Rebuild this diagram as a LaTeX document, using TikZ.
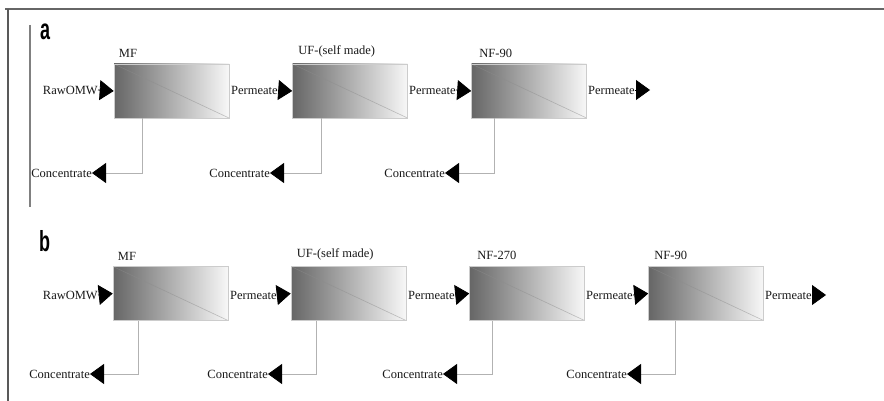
\documentclass[tikz,border=0pt]{standalone}
\usepackage{fontspec}
\setmainfont{Liberation Serif}
\newfontfamily\labfont{Liberation Sans}
\usetikzlibrary{arrows.meta}
\begin{document}
\begin{tikzpicture}[x=1pt,y=-1pt,
  memb/.style={draw=black!20,line width=0.6pt,minimum width=115pt,minimum height=54pt,inner sep=0pt,
    left color=black!60,right color=black!3,
    path picture={\draw[black!45,opacity=0.5,line width=0.6pt] (path picture bounding box.north west) -- (path picture bounding box.south east);}},
  txt/.style={font=\fontsize{12.5}{14}\selectfont,text=black!90,inner sep=0pt},
  title/.style={txt,anchor=south west,inner sep=0pt},
  tri/.style={-{Triangle[length=14pt,width=20pt,color=black]}},
  feed/.style={tri,draw=black,line width=0.8pt},
  conc/.style={tri,draw=black!30,line width=0.8pt},
  panel/.style={font=\labfont\bfseries\fontsize{29}{30}\selectfont,inner sep=0pt}
]
\fill[white] (0,0) rectangle (884,401);
\useasboundingbox (0,0) rectangle (884,401);
% frame
\draw[line width=2pt,black!60] (5,9) -- (884,9);
\draw[line width=1.5pt,black!65] (8,9) -- (8,401);
\draw[line width=1.2pt,black!50] (30,25) -- (30,207);

% panel labels
\node[panel,anchor=north west] (la) at (40,24) {\scalebox{0.62}[1]{a}};
\node[panel,anchor=north west] (lb) at (39,230) {\scalebox{0.62}[1]{b}};

% ---------- row a ----------
\node[memb] (mfa) at (171.5,91) {};
\node[memb] (ufa) at (350,91) {};
\node[memb] (nfa) at (529,91) {};
\node[title] (tmfa) at ([xshift=5pt,yshift=6pt]mfa.north west) {MF};
\node[title] (tufa) at ([xshift=6pt,yshift=6pt]ufa.north west) {UF-(self made)};
\node[title] (tnfa) at ([xshift=8pt,yshift=6pt]nfa.north west) {NF-90};

\node[txt,anchor=east] (rawa) at (98,90) {RawOMW};
\node[txt,anchor=west] (pa1) at (231,90) {Permeate};
\node[txt,anchor=west] (pa2) at (409,90) {Permeate};
\node[txt,anchor=west] (pa3) at (588,90) {Permeate};
\coordinate (enda) at (650,90);
\draw[feed] (rawa.east) -- (mfa.west);
\draw[feed] (pa1.east) -- (ufa.west);
\draw[feed] (pa2.east) -- (nfa.west);
\draw[feed] (pa3.east) -- (enda);

\node[txt,anchor=east] (ca1) at (92,173) {Concentrate};
\node[txt,anchor=east] (ca2) at (270,173) {Concentrate};
\node[txt,anchor=east] (ca3) at (445,173) {Concentrate};
\draw[conc] ([xshift=29pt]mfa.south west) |- (ca1.east);
\draw[conc] ([xshift=29pt]ufa.south west) |- (ca2.east);
\draw[conc] ([xshift=23pt]nfa.south west) |- (ca3.east);

% ---------- row b ----------
\node[memb] (mfb) at (170.5,293.5) {};
\node[memb] (ufb) at (348.5,293.5) {};
\node[memb] (nfb1) at (527,293.5) {};
\node[memb] (nfb2) at (706,293.5) {};
\node[title] (tmfb) at ([xshift=5pt,yshift=6pt]mfb.north west) {MF};
\node[title] (tufb) at ([xshift=6pt,yshift=6pt]ufb.north west) {UF-(self made)};
\node[title] (tnfb1) at ([xshift=8pt,yshift=6pt]nfb1.north west) {NF-270};
\node[title] (tnfb2) at ([xshift=6pt,yshift=6pt]nfb2.north west) {NF-90};

\node[txt,anchor=east] (rawb) at (98,295) {RawOMW};
\node[txt,anchor=west] (pb1) at (230,295) {Permeate};
\node[txt,anchor=west] (pb2) at (408,295) {Permeate};
\node[txt,anchor=west] (pb3) at (586,295) {Permeate};
\node[txt,anchor=west] (pb4) at (765,295) {Permeate};
\coordinate (endb) at (826,295);
\draw[feed] (rawb.east) -- (mfb.west);
\draw[feed] (pb1.east) -- (ufb.west);
\draw[feed] (pb2.east) -- (nfb1.west);
\draw[feed] (pb3.east) -- (nfb2.west);
\draw[feed] (pb4.east) -- (endb);

\node[txt,anchor=east] (cb1) at (90,374) {Concentrate};
\node[txt,anchor=east] (cb2) at (268,374) {Concentrate};
\node[txt,anchor=east] (cb3) at (443,374) {Concentrate};
\node[txt,anchor=east] (cb4) at (627,374) {Concentrate};
\draw[conc] ([xshift=26pt]mfb.south west) |- (cb1.east);
\draw[conc] ([xshift=26pt]ufb.south west) |- (cb2.east);
\draw[conc] ([xshift=23pt]nfb1.south west) |- (cb3.east);
\draw[conc] ([xshift=27pt]nfb2.south west) |- (cb4.east);
\end{tikzpicture}
\end{document}
